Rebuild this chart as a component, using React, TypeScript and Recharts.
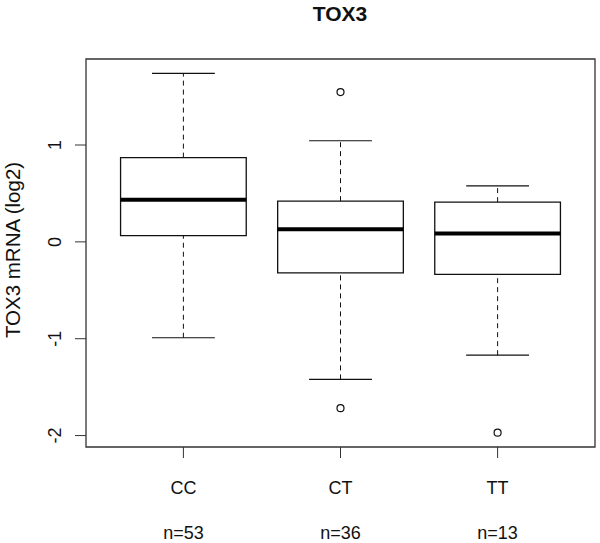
import React from 'react';
import {
  ComposedChart,
  XAxis,
  YAxis,
  Scatter,
  ReferenceArea,
  ReferenceLine
} from 'recharts';

const categories = ['CC', 'CT', 'TT'];
const counts = [53, 36, 13];
const whiskerLow = [-0.99, -1.42, -1.17];
const q1 = [0.065, -0.32, -0.335];
const median = [0.434, 0.13, 0.086];
const q3 = [0.87, 0.42, 0.41];
const whiskerHigh = [1.74, 1.044, 0.579];
const outlierGroup = [2, 2, 3];
const outlierValue = [1.547, -1.717, -1.97];
const yTicks = [-2, -1, 0, 1];

const outliers = outlierGroup.map((g, i) => ({ x: g, y: outlierValue[i] }));

const X_DOMAIN: [number, number] = [0.38, 3.62];
const Y_DOMAIN: [number, number] = [-2.118, 1.888];
const FONT = '"Liberation Sans", Arial, sans-serif';
const INK = '#111';

function YTick({ x, y, payload }: any) {
  return (
    <text
      x={x - 12}
      y={y}
      transform={`rotate(-90, ${x - 12}, ${y})`}
      textAnchor="middle"
      fontSize={18}
      fontFamily={FONT}
      fill={INK}
    >
      {payload.value}
    </text>
  );
}

function XTick({ x, y, payload }: any) {
  const i = payload.value - 1;
  return (
    <g fontFamily={FONT} fontSize={18} fill={INK} textAnchor="middle">
      <text x={x} y={y + 34}>{categories[i]}</text>
      <text x={x} y={y + 79}>{`n=${counts[i]}`}</text>
    </g>
  );
}

export default function App() {
  return (
    <div style={{ position: 'absolute', left: 0, top: 0, background: '#fff' }}>
      <ComposedChart width={600} height={543} margin={{ top: 59, right: 5, left: 0, bottom: 0 }}>
        <text x={340} y={21} textAnchor="middle" fontFamily={FONT} fontWeight="bold" fontSize={21} fill={INK}>
          TOX3
        </text>
        <text
          x={20}
          y={250}
          transform="rotate(-90, 20, 250)"
          textAnchor="middle"
          fontFamily={FONT}
          fontSize={20.5}
          fill={INK}
        >
          TOX3 mRNA (log2)
        </text>
        <XAxis
          type="number"
          dataKey="x"
          domain={X_DOMAIN}
          allowDataOverflow
          ticks={[1, 2, 3]}
          height={96}
          axisLine={false}
          tickSize={11}
          tickLine={{ stroke: '#333' }}
          tick={<XTick />}
        />
        <YAxis
          type="number"
          dataKey="y"
          domain={Y_DOMAIN}
          allowDataOverflow
          ticks={yTicks}
          width={86}
          axisLine={false}
          tickSize={11}
          tickLine={{ stroke: '#333' }}
          tick={<YTick />}
        />
        <ReferenceArea
          x1={X_DOMAIN[0]}
          x2={X_DOMAIN[1]}
          y1={Y_DOMAIN[0]}
          y2={Y_DOMAIN[1]}
          fill="none"
          stroke="#333"
          strokeWidth={1.3}
          ifOverflow="visible"
        />
        {categories.map((c, i) => {
          const g = i + 1;
          return (
            <React.Fragment key={c}>
              <ReferenceLine
                segment={[{ x: g, y: whiskerLow[i] }, { x: g, y: q1[i] }]}
                stroke={INK}
                strokeDasharray="5 4"
                ifOverflow="visible"
              />
              <ReferenceLine
                segment={[{ x: g, y: q3[i] }, { x: g, y: whiskerHigh[i] }]}
                stroke={INK}
                strokeDasharray="5 4"
                ifOverflow="visible"
              />
              <ReferenceLine
                segment={[{ x: g - 0.2, y: whiskerLow[i] }, { x: g + 0.2, y: whiskerLow[i] }]}
                stroke={INK}
                strokeWidth={1.2}
                ifOverflow="visible"
              />
              <ReferenceLine
                segment={[{ x: g - 0.2, y: whiskerHigh[i] }, { x: g + 0.2, y: whiskerHigh[i] }]}
                stroke={INK}
                strokeWidth={1.2}
                ifOverflow="visible"
              />
              <ReferenceArea
                x1={g - 0.4}
                x2={g + 0.4}
                y1={q1[i]}
                y2={q3[i]}
                fill="none"
                stroke={INK}
                strokeWidth={1.3}
                ifOverflow="visible"
              />
              <ReferenceLine
                segment={[{ x: g - 0.4, y: median[i] }, { x: g + 0.4, y: median[i] }]}
                stroke="#000"
                strokeWidth={4}
                ifOverflow="visible"
              />
            </React.Fragment>
          );
        })}
        <Scatter
          data={outliers}
          isAnimationActive={false}
          shape={(p: any) => (
            <circle cx={p.cx} cy={p.cy} r={3.5} fill="none" stroke={INK} strokeWidth={1.2} />
          )}
        />
      </ComposedChart>
    </div>
  );
}
